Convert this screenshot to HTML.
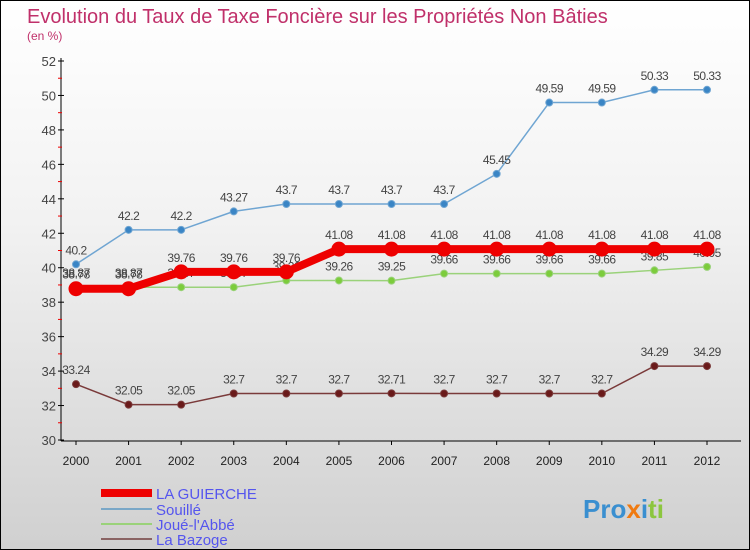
<!DOCTYPE html>
<html><head><meta charset="utf-8">
<style>
html,body{margin:0;padding:0}
body{width:750px;height:550px;overflow:hidden;font-family:"Liberation Sans",sans-serif}
#wrap{position:relative;width:748px;height:548px;border:1px solid #000;background:linear-gradient(#ffffff,#f2f2f2 40%,#d0d0d0)}
</style></head><body>
<div id="wrap">
<svg id="chart" width="748" height="548" style="position:absolute;left:0;top:0">
<text x="26" y="22" font-size="20" fill="#c0306a">Evolution du Taux de Taxe Foncière sur les Propriétés Non Bâties</text>
<text x="26" y="39" font-size="12" fill="#c0306a">(en %)</text>
<g id="axes"></g><g id="series"></g>
<g>
<rect x="100" y="488" width="51" height="8" fill="#e00"/>
<text x="155" y="498" font-size="15" fill="#5555ee">LA GUIERCHE</text>
<rect x="100" y="507" width="51" height="2" fill="#7aa7c7"/>
<text x="155" y="514" font-size="15" fill="#5555ee">Souillé</text>
<rect x="100" y="522" width="51" height="2" fill="#9ad27a"/>
<text x="155" y="529" font-size="15" fill="#5555ee">Joué-l'Abbé</text>
<rect x="100" y="537" width="51" height="2" fill="#8a6464"/>
<text x="155" y="544" font-size="15" fill="#5555ee">La Bazoge</text>
</g>
<text x="582" y="517" font-size="26" font-weight="bold"><tspan fill="#3a8fd0">Pro</tspan><tspan fill="#f07a10">x</tspan><tspan fill="#3a8fd0">i</tspan><tspan fill="#8cc63f">ti</tspan></text>
</svg>
</div>
<script>
const years=[2000,2001,2002,2003,2004,2005,2006,2007,2008,2009,2010,2011,2012];
const yTicks=[30,32,34,36,38,40,42,44,46,48,50,52];
const guierche=[38.78,38.78,39.76,39.76,39.76,41.08,41.08,41.08,41.08,41.08,41.08,41.08,41.08];
const souille=[40.2,42.2,42.2,43.27,43.7,43.7,43.7,43.7,45.45,49.59,49.59,50.33,50.33];
const joue=[38.87,38.87,38.87,38.87,39.26,39.26,39.25,39.66,39.66,39.66,39.66,39.85,40.05];
const bazoge=[33.24,32.05,32.05,32.7,32.7,32.7,32.71,32.7,32.7,32.7,32.7,34.29,34.29];
const NS='http://www.w3.org/2000/svg';
function X(i){return 75+(706-75)*i/(years.length-1);}
function Y(v){return 439-(v-30)*(439-60)/22;}
function mk(tag,attrs,parent){const e=document.createElementNS(NS,tag);for(const k in attrs)e.setAttribute(k,attrs[k]);parent.appendChild(e);return e;}
const ax=document.getElementById('axes'),sg=document.getElementById('series');
let a=mk('line',{x1:60,y1:57,x2:60,y2:440,stroke:'#000'},ax);


a=mk('line',{x1:60,y1:440,x2:740,y2:440,stroke:'#000'},ax);


yTicks.forEach(v=>{
 mk('line',{x1:57,x2:63,y1:Y(v),y2:Y(v),stroke:'#000'},ax);
 if(v<52)mk('line',{x1:57,x2:61,y1:Y(v+1),y2:Y(v+1),stroke:'#e00'},ax);
 const t=mk('text',{x:55,y:Y(v)+5,'font-size':13,fill:'#444','text-anchor':'end'},ax);t.textContent=v;
 
 
});
years.forEach((y,i)=>{
 mk('line',{x1:X(i),x2:X(i),y1:440,y2:444,stroke:'#000'},ax);
 const t=mk('text',{x:X(i),y:464,'font-size':12,fill:'#222','text-anchor':'middle'},ax);t.textContent=y;
 
 
});
function draw(data,name,color,dot,w,r){
 const g=mk('g',{},sg);
 
 
 mk('polyline',{points:data.map((v,i)=>X(i)+','+Y(v)).join(' '),fill:'none',stroke:color,'stroke-width':w,'stroke-linejoin':'round'},g);
 data.forEach((v,i)=>{
  const c=mk('circle',{cx:X(i),cy:Y(v),r:r,fill:dot,stroke:color,'stroke-width':1},g);
  
  
  const t=mk('text',{x:X(i),y:Y(v)-10,'font-size':12,fill:'#444','text-anchor':'middle','letter-spacing':'-0.5'},g);t.textContent=v;
  
  
 });
}
draw(bazoge,'la-bazoge','#7a3a3a','#6a1a1a',1.5,3.5);
draw(joue,'joue-l-abbe','#9ad27a','#7ccc3c',1.5,3.5);
draw(souille,'souille','#6fa5d2','#3a85c5',1.5,3.5);
draw(guierche,'la-guierche','#e00','#e00',8,7);
</script>
</body></html>
